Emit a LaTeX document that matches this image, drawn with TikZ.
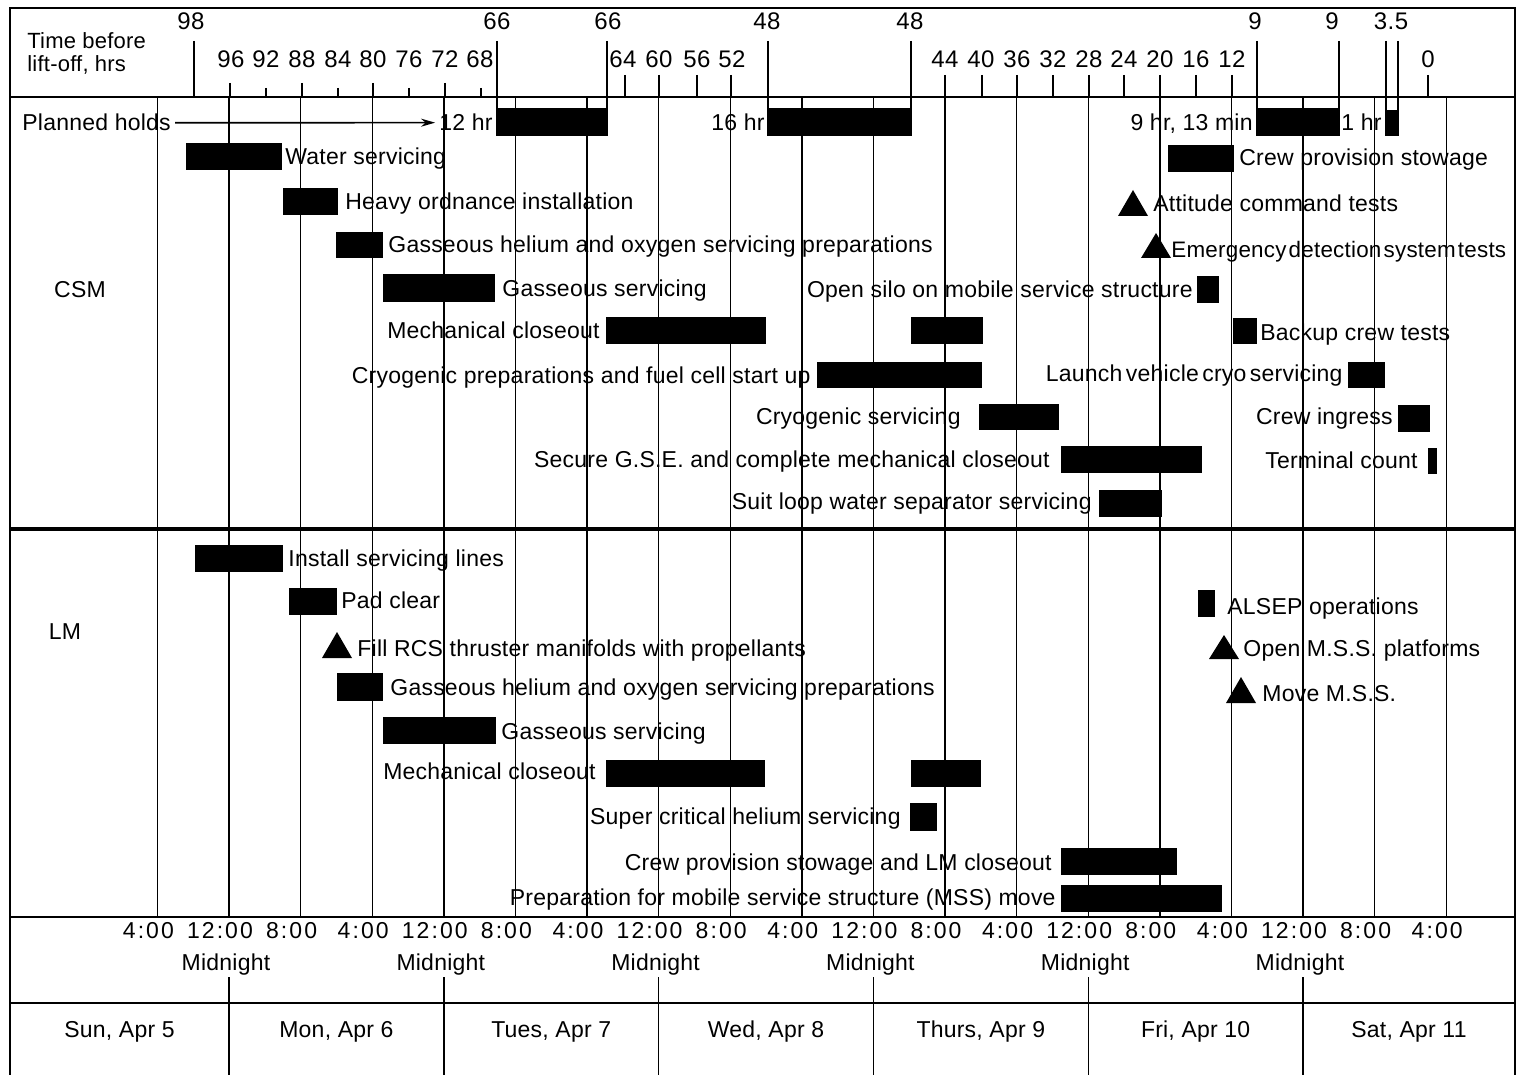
\documentclass[tikz,border=0pt]{standalone}
\usepackage{fontspec}
\setmainfont{Liberation Sans}[LetterSpace=1]
\newfontfamily\timefont{Liberation Sans}[LetterSpace=9]
\newfontfamily\numfont{Liberation Sans}[LetterSpace=2]
\usetikzlibrary{arrows.meta}
\tikzset{
  lbl/.style={inner sep=0pt, font=\fontsize{11.5}{13}\selectfont},
  lw/.style={lbl, anchor=base west},
  le/.style={lbl, anchor=base east},
  hdr/.style={inner sep=0pt, font=\fontsize{11}{13}\selectfont, anchor=base},
  num/.style={inner sep=0pt, font=\numfont\fontsize{12}{14}\selectfont, anchor=base},
  tml/.style={inner sep=0pt, font=\timefont\fontsize{11.5}{13}\selectfont, anchor=base},
  gridline/.style={line width=0.7pt},
  frameline/.style={line width=1pt},
  tickline/.style={line width=0.7pt},
  arr/.style={line width=0.8pt, -{Stealth[length=7pt,width=4pt]}, shorten <=2pt, shorten >=2pt},
}
\newcommand\gbar[4]{\fill (#1,#2) rectangle (#3,#4);}
\newcommand\gtri[3]{\fill ({#1-15},#3) -- ({#1+15},#3) -- (#1,#2) -- cycle;}
\begin{document}
\begin{tikzpicture}[x=0.5pt,y=-0.5pt]
\useasboundingbox (0,0) rectangle (1525,1075);
% grid lines
\foreach \i in {0,...,18} \draw[gridline] ({157.4+71.6*\i},97) -- ({157.4+71.6*\i},917);
\foreach \i in {0,...,5} \draw[gridline] ({229+214.8*\i},977) -- ({229+214.8*\i},1075);
% frame
\draw[frameline] (10,1075) -- (10,8) -- (1515,8) -- (1515,1075);
\draw[frameline] (10,97) -- (1515,97);
\draw[line width=1.6pt] (10,529) -- (1515,529);
\draw[frameline] (10,917) -- (1515,917);
\draw[frameline] (10,1003) -- (1515,1003);

% header
\node[hdr, anchor=base west] (hA) at (27,49) {Time before};
\node[hdr, anchor=base west] (hB) at (27,72) {lift-off, hrs};
\foreach \x in {194,497,607,768,911,1257,1339,1386,1398} \draw[tickline] (\x,41) -- (\x,97);
\foreach \x/\t/\n in {191/98/a,497/66/b,608/66/c,767/48/d,910/48/e,1255/9/f,1332/9/g,1391/3.5/h}
  \node[num] (top\n) at (\x,30) {\t};
\foreach \x in {230,302,373,445} \draw[tickline] (\x,83) -- (\x,97);
\foreach \x in {266,338,409,481} \draw[tickline] (\x,88) -- (\x,97);
\foreach \x in {625,659,697,731,945,982,1017,1053,1089,1124,1160,1196,1232,1428} \draw[tickline] (\x,75) -- (\x,97);
\foreach \x/\t in {231/96,266/92,302/88,338/84,373/80,409/76,445/72,480/68,623/64,659/60,697/56,732/52,945/44,981/40,1017/36,1053/32,1089/28,1124/24,1160/20,1196/16,1232/12,1428/0}
  \node[num] (sec\t) at (\x,68) {\t};

% planned holds
\draw[tickline] (497,97) rectangle (607,135); \gbar{497}{108}{607}{135}
\draw[tickline] (768,97) rectangle (911,135); \gbar{768}{108}{911}{135}
\draw[tickline] (1257,97) rectangle (1339,135); \gbar{1257}{108}{1339}{135}
\draw[tickline] (1386,97) rectangle (1398,135); \gbar{1386}{110}{1398}{135}
\node[lw] (ph) at (22,131) {Planned holds};
\node[le] (h12) at (493,131) {12 hr};
\node[le] (h16) at (765,131) {16 hr};
\node[le] (h9) at (1253,131) {9 hr, 13 min};
\node[lw] (h1) at (1341,131) {1 hr};
\draw[arr] (ph.east) -- (h12.west);

% CSM
\node[lbl, anchor=base] (csm) at (80,298) {CSM};
\gbar{186}{143}{282}{170} \node[lw] (c1) at (285,165) {Water servicing};
\gbar{283}{188}{338}{215} \node[lw] (c2) at (345,210) {Heavy ordnance installation};
\gbar{336}{232}{383}{258} \node[lw] (c3) at (388,253) {Gasseous helium and oxygen servicing preparations};
\gbar{383}{274}{495}{302} \node[lw] (c4) at (502,296) {Gasseous servicing};
\gbar{606}{317}{766}{344} \gbar{911}{317}{983}{344} \node[le] (c5) at (600,338) {Mechanical closeout};
\gbar{817}{362}{982}{388} \node[le] (c6) at (811,383) {Cryogenic preparations and fuel cell start up};
\gbar{979}{404}{1059}{430} \node[le] (c7) at (961,424) {Cryogenic servicing};
\gbar{1061}{446}{1202}{473} \node[le] (c8) at (1050,467) {Secure G.S.E. and complete mechanical closeout};
\gbar{1099}{490}{1162}{517} \node[le] (c9) at (1092,509) {Suit loop water separator servicing};

\gbar{1168}{145}{1234}{172} \node[lw] (r1) at (1239,166) {Crew provision stowage};
\gtri{1133}{190}{216} \node[lw] (r2) at (1153,212) {Attitude command tests};
\gtri{1156}{233}{258} \node[lw, font=\fontsize{11.2}{13}\selectfont] (r3) at (1171,257) {{\spaceskip=0.1em Emergency detection system tests}};
\gbar{1197}{276}{1219}{303} \node[le] (r4) at (1193,297) {Open silo on mobile service structure};
\gbar{1233}{318}{1257}{344} \node[lw] (r5) at (1260,340) {Backup crew tests};
\gbar{1348}{362}{1385}{388} \node[le] (r6) at (1343,381) {{\spaceskip=0.15em Launch vehicle cryo servicing}};
\gbar{1398}{405}{1430}{432} \node[le] (r7) at (1393,424) {Crew ingress};
\gbar{1428}{448}{1437}{474} \node[le] (r8) at (1418,468) {Terminal count};

% LM
\node[lbl, anchor=base] (lm) at (65,639) {LM};
\gbar{195}{545}{283}{572} \node[lw] (l1) at (288,566) {Install servicing lines};
\gbar{289}{588}{337}{615} \node[lw] (l2) at (341,608) {Pad clear};
\gtri{337}{632}{658} \node[lw] (l3) at (357,656) {Fill RCS thruster manifolds with propellants};
\gbar{337}{673}{383}{701} \node[lw] (l4) at (390,695) {Gasseous helium and oxygen servicing preparations};
\gbar{383}{717}{496}{744} \node[lw] (l5) at (501,739) {Gasseous servicing};
\gbar{606}{760}{765}{787} \gbar{911}{760}{981}{787} \node[le] (l6) at (596,779) {Mechanical closeout};
\gbar{910}{803}{937}{831} \node[le] (l7) at (901,824) {Super critical helium servicing};
\gbar{1061}{848}{1177}{875} \node[le] (l8) at (1052,870) {Crew provision stowage and LM closeout};
\gbar{1061}{885}{1222}{912} \node[le] (l9) at (1056,905) {Preparation for mobile service structure (MSS) move};

\gbar{1198}{590}{1215}{617} \node[lw] (q1) at (1227,614) {ALSEP operations};
\gtri{1224}{635}{659} \node[lw] (q2) at (1243,656) {Open M.S.S. platforms};
\gtri{1241}{677}{703} \node[lw] (q3) at (1262,701) {Move M.S.S.};

% time axis
\foreach \i/\t in {0/4:00,1/12:00,2/8:00,3/4:00,4/12:00,5/8:00,6/4:00,7/12:00,8/8:00,9/4:00,10/12:00,11/8:00,12/4:00,13/12:00,14/8:00,15/4:00,16/12:00,17/8:00,18/4:00}
  \node[tml] (t\i) at ({157.4+71.6*\i-9},938) {\t};
\foreach \i in {0,...,5}
  \node[lbl, anchor=base] (mn\i) at ({229+214.8*\i-3},970) {Midnight};
\foreach \x/\t/\n in {119.5/{Sun, Apr 5}/a,336.4/{Mon, Apr 6}/b,551.2/{Tues, Apr 7}/c,766/{Wed, Apr 8}/d,980.8/{Thurs, Apr 9}/e,1195.6/{Fri, Apr 10}/f,1409/{Sat, Apr 11}/g}
  \node[lbl, anchor=base] (day\n) at (\x,1037) {\t};
\end{tikzpicture}
\end{document}
